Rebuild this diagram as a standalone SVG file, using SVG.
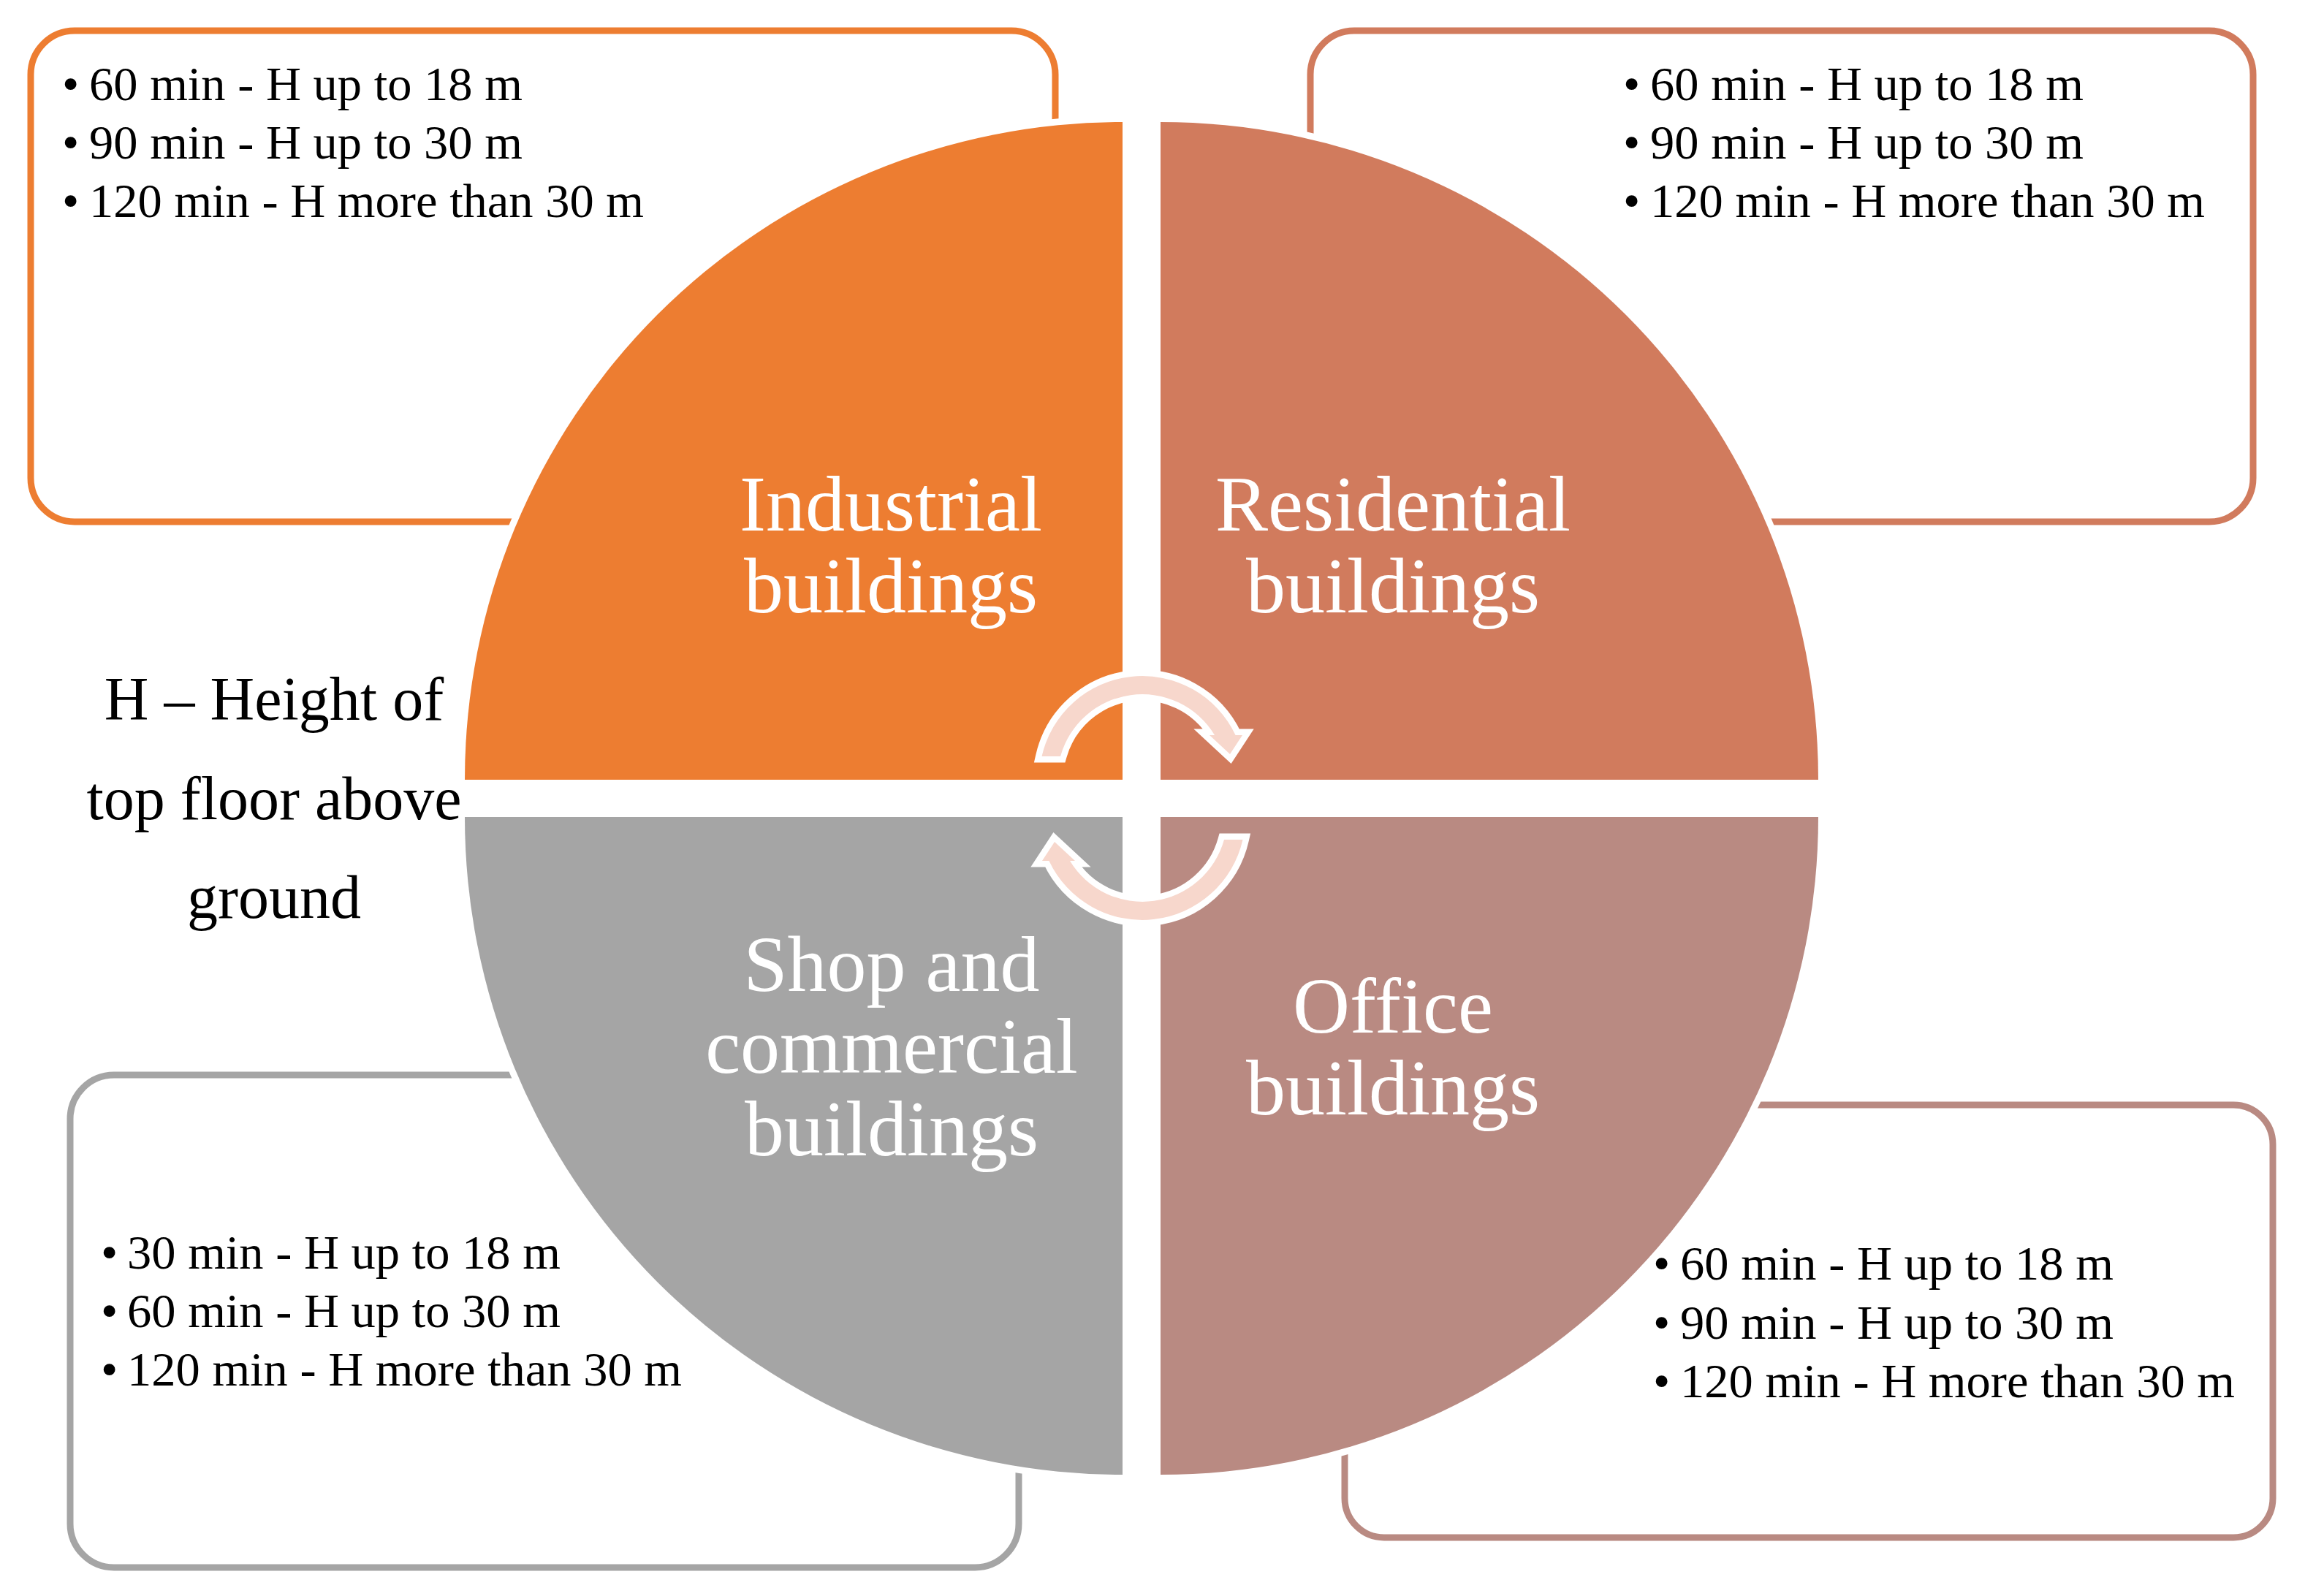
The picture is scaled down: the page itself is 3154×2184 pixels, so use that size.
<svg xmlns="http://www.w3.org/2000/svg" width="3154" height="2184" viewBox="0 0 3154 2184">
  <style>
    .box { fill: #FFFFFF; stroke-width: 9; }
    .quad { stroke: #FFFFFF; stroke-width: 18; paint-order: stroke; stroke-linejoin: miter; }
    .lbl { font-family: "Liberation Serif", "Times New Roman", serif; font-size: 108px; fill: #FFFFFF; text-anchor: middle; }
    .txt { font-family: "Liberation Serif", "Times New Roman", serif; font-size: 66.5px; fill: #000000; }
    .note { font-family: "Liberation Serif", "Times New Roman", serif; font-size: 84px; fill: #000000; text-anchor: middle; }
    .arr { fill: #F7D7CC; stroke: #FFFFFF; stroke-width: 17; paint-order: stroke; stroke-linejoin: miter; stroke-miterlimit: 6; }
  </style>
  <rect width="3154" height="2184" fill="#FFFFFF"/>

  <!-- text boxes (behind the circle) -->
  <g id="box-industrial">
    <rect class="box" x="42" y="42" width="1402" height="672" rx="60" ry="60" stroke="#ED7D31"/>
  </g>
  <g id="box-residential">
    <rect class="box" x="1793" y="42" width="1290" height="672" rx="60" ry="60" stroke="#D17B5D"/>
  </g>
  <g id="box-shop">
    <rect class="box" x="96" y="1471" width="1298" height="674" rx="60" ry="60" stroke="#A5A5A5"/>
  </g>
  <g id="box-office">
    <rect class="box" x="1840" y="1512" width="1270" height="592" rx="54" ry="54" stroke="#B98A82"/>
  </g>

  <!-- quadrants -->
  <g id="node-industrial">
    <path class="quad" fill="#ED7D31" d="M1536,1067 L636,1067 A900,900 0 0 1 1536,167 Z"/>
    <text class="lbl" x="1219" y="726">Industrial</text>
    <text class="lbl" x="1219" y="838">buildings</text>
  </g>
  <g id="node-residential">
    <path class="quad" fill="#D17B5D" d="M1588,1067 L1588,167 A900,900 0 0 1 2488,1067 Z"/>
    <text class="lbl" x="1906" y="726">Residential</text>
    <text class="lbl" x="1906" y="838">buildings</text>
  </g>
  <g id="node-office">
    <path class="quad" fill="#B98A82" d="M1588,1118 L2488,1118 A900,900 0 0 1 1588,2018 Z"/>
    <text class="lbl" x="1906" y="1413">Office</text>
    <text class="lbl" x="1906" y="1525">buildings</text>
  </g>
  <g id="node-shop">
    <path class="quad" fill="#A5A5A5" d="M1536,1118 L1536,2018 A900,900 0 0 1 636,1118 Z"/>
    <text class="lbl" x="1220" y="1356">Shop and</text>
    <text class="lbl" x="1220" y="1468">commercial</text>
    <text class="lbl" x="1220" y="1581">buildings</text>
  </g>

  <!-- cycle arrows -->
  <g id="connectors">
    <path class="arr" d="M1425.5,1035 A141,141 0 0 1 1690.6,1006 L1700,1006 L1683,1032 L1655,1006 L1662,1006 A116,116 0 0 0 1451,1035 Z"/>
    <path class="arr" transform="rotate(180 1563 1092)" d="M1425.5,1035 A141,141 0 0 1 1690.6,1006 L1700,1006 L1683,1032 L1655,1006 L1662,1006 A116,116 0 0 0 1451,1035 Z"/>
  </g>

  <!-- box texts -->
  <g id="text-industrial">
    <text class="txt" y="137"><tspan x="85">•</tspan><tspan x="122">60 min - H up to 18 m</tspan></text>
    <text class="txt" y="217"><tspan x="85">•</tspan><tspan x="122">90 min - H up to 30 m</tspan></text>
    <text class="txt" y="297"><tspan x="85">•</tspan><tspan x="122">120 min - H more than 30 m</tspan></text>
  </g>
  <g id="text-residential">
    <text class="txt" y="137"><tspan x="2221">•</tspan><tspan x="2258">60 min - H up to 18 m</tspan></text>
    <text class="txt" y="217"><tspan x="2221">•</tspan><tspan x="2258">90 min - H up to 30 m</tspan></text>
    <text class="txt" y="297"><tspan x="2221">•</tspan><tspan x="2258">120 min - H more than 30 m</tspan></text>
  </g>
  <g id="text-shop">
    <text class="txt" y="1736"><tspan x="138">•</tspan><tspan x="174">30 min - H up to 18 m</tspan></text>
    <text class="txt" y="1816"><tspan x="138">•</tspan><tspan x="174">60 min - H up to 30 m</tspan></text>
    <text class="txt" y="1896"><tspan x="138">•</tspan><tspan x="174">120 min - H more than 30 m</tspan></text>
  </g>
  <g id="text-office">
    <text class="txt" y="1751"><tspan x="2262">•</tspan><tspan x="2299">60 min - H up to 18 m</tspan></text>
    <text class="txt" y="1832"><tspan x="2262">•</tspan><tspan x="2299">90 min - H up to 30 m</tspan></text>
    <text class="txt" y="1912"><tspan x="2262">•</tspan><tspan x="2299">120 min - H more than 30 m</tspan></text>
  </g>

  <!-- side note -->
  <g id="note-height">
    <text class="note" x="375" y="985">H – Height of</text>
    <text class="note" x="375" y="1121">top floor above</text>
    <text class="note" x="375" y="1256">ground</text>
  </g>
</svg>
